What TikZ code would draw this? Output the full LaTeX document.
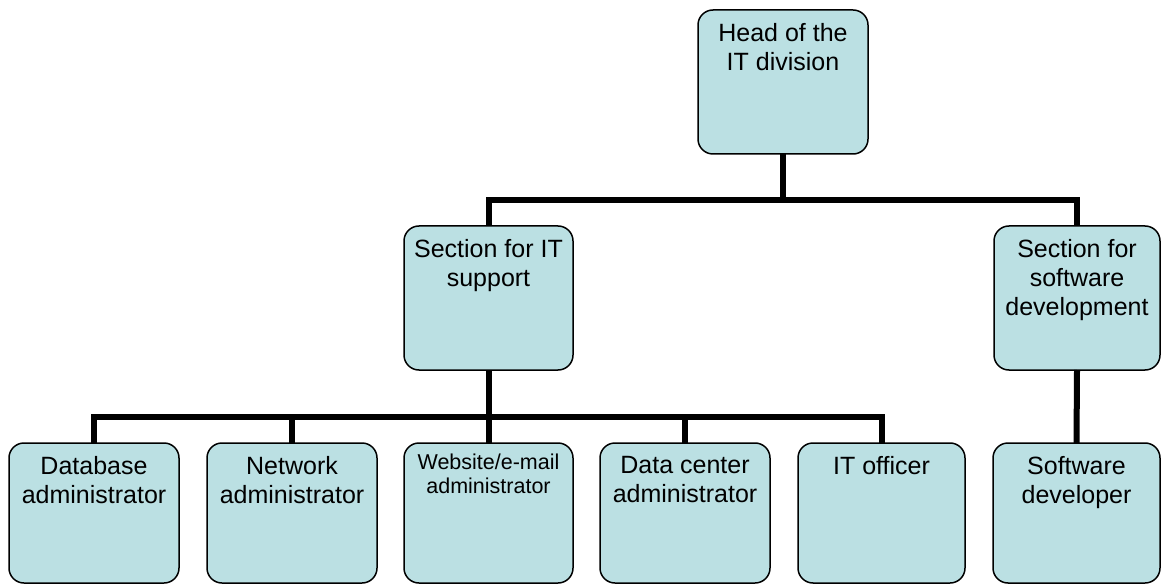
\documentclass[tikz,border=0pt]{standalone}
\usepackage{fontspec}
\setmainfont{Liberation Sans}
\definecolor{boxfill}{HTML}{BBE0E3}
\begin{document}
\begin{tikzpicture}[x=1pt,y=-1pt,
  orgbox/.style={draw=black, line width=1.5pt, fill=boxfill, rounded corners=15pt,
    minimum width=170pt, minimum height=144pt, inner sep=0pt, outer sep=0pt},
  lowbox/.style={orgbox, minimum height=140pt},
  lbl/.style={anchor=north, inner sep=0pt, align=center, text=black,
    font=\fontsize{25}{29}\selectfont},
  smalllbl/.style={lbl, font=\fontsize{21.5}{24}\selectfont},
  conn/.style={draw=black, line width=6pt, line join=miter}]
\useasboundingbox (0,0) rectangle (1161,585);

% boxes
\node[orgbox] (head) at (783,82) {};
\node[orgbox, minimum width=169pt] (itsup) at (488.5,298) {};
\node[orgbox, minimum width=166pt] (swsec) at (1077,298) {};
\node[lowbox] (db) at (94,513) {};
\node[lowbox] (net) at (292,513) {};
\node[lowbox, minimum width=169pt] (web) at (488.5,513) {};
\node[lowbox] (dc) at (685,513) {};
\node[lowbox, minimum width=167pt] (ito) at (881.5,513) {};
\node[lowbox, minimum width=167pt] (swdev) at (1076.5,513) {};

% texts
\node[lbl] (headt) at ([yshift=-13pt]head.north) {Head of the\\IT division};
\node[lbl] (itsupt) at ([yshift=-13pt]itsup.north) {Section for IT\\support};
\node[lbl] (swsect) at ([yshift=-13pt]swsec.north) {Section for\\software\\development};
\node[lbl] (dbt) at ([yshift=-13pt]db.north) {Database\\administrator};
\node[lbl] (nett) at ([yshift=-13pt]net.north) {Network\\administrator};
\node[smalllbl] (webt) at ([yshift=-11pt]web.north) {Website/e-mail\\administrator};
\node[lbl] (dct) at ([yshift=-13pt]dc.north) {Data center\\administrator};
\node[lbl] (itot) at ([yshift=-13pt]ito.north) {IT officer};
\node[lbl] (swdevt) at ([yshift=-13pt]swdev.north) {Software\\developer};

% connectors
\coordinate (bus1) at (783,200);
\coordinate (bus2) at (488.5,417);
\draw[conn] (head.south) -- (bus1);
\draw[conn] (itsup.north) -- (itsup.north |- bus1) -- (swsec.north |- bus1) -- (swsec.north);
\draw[conn] (itsup.south) -- (bus2);
\draw[conn] (db.north) -- (db.north |- bus2) -- (ito.north |- bus2) -- (ito.north);
\draw[conn] (net.north) -- (net.north |- bus2);
\draw[conn] (web.north) -- (web.north |- bus2);
\draw[conn] (dc.north) -- (dc.north |- bus2);
\draw[conn] (swsec.south) -- (swdev.north);
\end{tikzpicture}
\end{document}
